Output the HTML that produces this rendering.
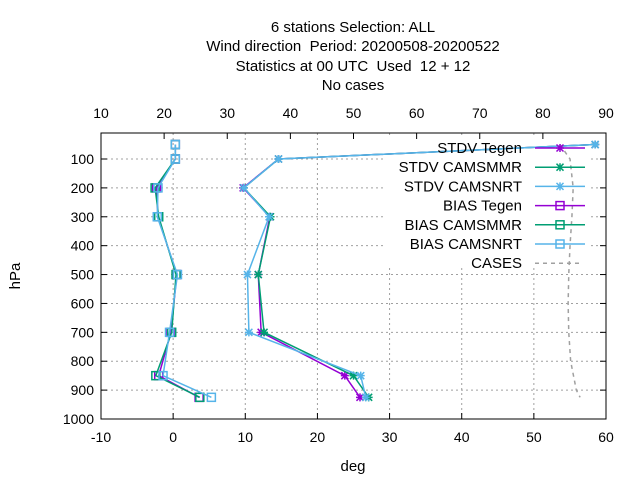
<!DOCTYPE html>
<html><head><meta charset="utf-8"><style>
html,body{margin:0;padding:0;background:#fff;}
svg{display:block;font-family:"Liberation Sans",sans-serif;}
#titles text{white-space:pre;}
</style></head><body>
<svg id="chart" width="640" height="480" viewBox="0 0 640 480">
<g id="titles" font-size="15" text-anchor="middle" fill="#000" xml:space="preserve">
<text x="353" y="32">6 stations Selection: ALL</text>
<text x="353" y="51">Wind direction  Period: 20200508-20200522</text>
<text x="353" y="71">Statistics at 00 UTC  Used  12 + 12</text>
<text x="353" y="90">No cases</text>
</g>
<g id="grid"></g>
<rect x="385" y="137" width="205" height="131" fill="#fff"/>
<g id="series"></g>
<rect x="101" y="133" width="505" height="286" fill="none" stroke="#000" stroke-width="1"/>
<g id="axes" font-size="14" fill="#000"></g>
<text x="20" y="276" font-size="15" text-anchor="middle" transform="rotate(-90 20 276)">hPa</text>
<text x="353" y="471" font-size="15" text-anchor="middle">deg</text>
<g id="legend" font-size="15"></g>
</svg>
<script>
const levels = [50, 100, 200, 300, 500, 700, 850, 925];
const stdvTegen = [58.5, 14.6, 9.7, 13.4, 11.8, 12.2, 23.8, 25.9];
const stdvCamsmmr = [58.5, 14.6, 9.8, 13.5, 11.8, 12.6, 25.0, 27.1];
const stdvCamsnrt = [58.5, 14.6, 9.8, 13.3, 10.3, 10.5, 26.0, 26.7];
const biasTegen = [0.3, 0.3, -2.3, -2.1, 0.5, -0.3, -2.0, 3.6];
const biasCamsmmr = [0.3, 0.3, -2.5, -2.0, 0.4, -0.2, -2.4, 3.7];
const biasCamsnrt = [0.3, 0.3, -2.1, -2.2, 0.6, -0.5, -1.4, 5.3];
const cases = [82.7, 84.3, 84.8, 84.6, 84.3, 84.1, 84.0, 84.1, 84.4, 85.3, 85.9];
const caseLevels = [50, 100, 200, 300, 400, 500, 600, 700, 800, 900, 925];
const xTicks = [-10, 0, 10, 20, 30, 40, 50, 60];
const x2Ticks = [10, 20, 30, 40, 50, 60, 70, 80, 90];
const yTicks = [100, 200, 300, 400, 500, 600, 700, 800, 900, 1000];

const L=101,R=606,T=133,B=419;
const xs=v=>L+(v+10)/70*(R-L);
const x2=v=>L+(v-10)/80*(R-L);
const ys=p=>B-(1000-p)/990*(B-T);
const NS='http://www.w3.org/2000/svg';
function mk(tag,attrs,parent){const e=document.createElementNS(NS,tag);for(const k in attrs)e.setAttribute(k,attrs[k]);parent.appendChild(e);return e;}
const grid=document.getElementById('grid'),axes=document.getElementById('axes'),ser=document.getElementById('series'),leg=document.getElementById('legend');
xTicks.forEach(t=>{const x=xs(t);
 if(t>-10&&t<60){const g=mk('line',{x1:x,x2:x,y1:T,y2:B,stroke:'#a0a0a0','stroke-dasharray':'2,3'},grid);
 
 }
 const tk=mk('line',{x1:x,x2:x,y1:B,y2:B-6,stroke:'#000'},axes);
 
 
 const tx=mk('text',{x:x,y:B+23,'text-anchor':'middle'},axes);tx.textContent=t;
 
 });
x2Ticks.forEach(t=>{const x=x2(t);
 const tk=mk('line',{x1:x,x2:x,y1:T,y2:T+6,stroke:'#000'},axes);
 
 
 const tx=mk('text',{x:x,y:T-15,'text-anchor':'middle'},axes);tx.textContent=t;
 
 });
yTicks.forEach(t=>{const y=ys(t);
 if(t<1000){const g=mk('line',{x1:L,x2:R,y1:y,y2:y,stroke:'#a0a0a0','stroke-dasharray':'2,3'},grid);
 
 }
 const tk=mk('line',{x1:L,x2:L+6,y1:y,y2:y,stroke:'#000'},axes);
 
 
 const tk2=mk('line',{x1:R,x2:R-6,y1:y,y2:y,stroke:'#000'},axes);
 
 
 const tx=mk('text',{x:L-7,y:y+5,'text-anchor':'end'},axes);tx.textContent=t;
 
 });
function marker(type,x,y,c,parent){
 const g=mk('g',{stroke:c,'stroke-width':1.5,fill:'none'},parent);
 if(type==='star'){mk('path',{d:`M${x-4} ${y}H${x+4}M${x} ${y-4}V${y+4}M${x-3.5} ${y-3.5}L${x+3.5} ${y+3.5}M${x-3.5} ${y+3.5}L${x+3.5} ${y-3.5}`},g);}
 else{mk('rect',{x:x-4,y:y-4,width:8,height:8},g);}
 return g;}
const series=[
 ['stdv-tegen',stdvTegen,'#9400d3','star','STDV Tegen'],
 ['stdv-camsmmr',stdvCamsmmr,'#009e73','star','STDV CAMSMMR'],
 ['stdv-camsnrt',stdvCamsnrt,'#56b4e9','star','STDV CAMSNRT'],
 ['bias-tegen',biasTegen,'#9400d3','sq','BIAS Tegen'],
 ['bias-camsmmr',biasCamsmmr,'#009e73','sq','BIAS CAMSMMR'],
 ['bias-camsnrt',biasCamsnrt,'#56b4e9','sq','BIAS CAMSNRT']];
series.forEach((s,i)=>{
 const g=mk('g',{},ser);
 
 
 const pts=s[1].map((v,j)=>xs(v)+','+ys(levels[j])).join(' ');
 const pl=mk('polyline',{points:pts,fill:'none',stroke:s[2],'stroke-width':1.5},g);
 
 
 s[1].forEach((v,j)=>{const m=marker(s[3],xs(v),ys(levels[j]),s[2],g);
  
  });
 const ly=148+i*19.2;
 const lt=mk('text',{x:522,y:ly+5,'text-anchor':'end',fill:'#000'},leg);lt.textContent=s[4];
 
 
 const ll=mk('line',{x1:535,x2:585,y1:ly,y2:ly,stroke:s[2],'stroke-width':1.5},leg);
 
 
 const lm=marker(s[3],560,ly,s[2],leg);
 
 
});
const cp=mk('polyline',{points:cases.map((v,j)=>x2(v)+','+ys(caseLevels[j])).join(' '),fill:'none',stroke:'#a0a0a0','stroke-width':1.5,'stroke-dasharray':'4,4'},ser);


const cy=148+6*19.2;
const ct=mk('text',{x:522,y:cy+5,'text-anchor':'end',fill:'#000'},leg);ct.textContent='CASES';


const cl=mk('line',{x1:535,x2:580,y1:cy,y2:cy,stroke:'#a0a0a0','stroke-width':1.5,'stroke-dasharray':'4,4'},leg);


</script>
</body></html>
